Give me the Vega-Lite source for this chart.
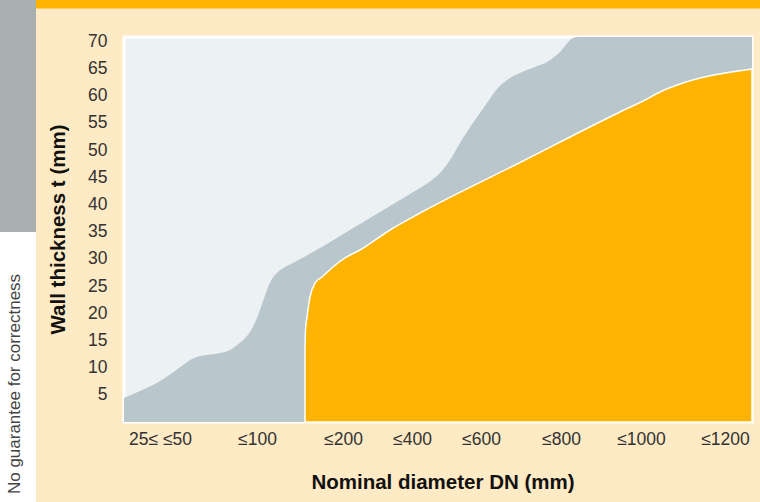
{
  "$schema": "https://vega.github.io/schema/vega-lite/v6.json",
  "width": 628,
  "height": 385,
  "autosize": {"type": "none"},
  "padding": {"left": 124, "top": 37, "right": 8, "bottom": 80},
  "background": "#feeac4",
  "config": {
    "font": "Liberation Sans",
    "axis": {"labelOverlap": false},
    "axisX": {
      "ticks": false, "domain": false, "grid": false, "labelOverlap": false,
      "labelFontSize": 17.5, "labelColor": "#333333", "labelPadding": 8, "labelFlush": false,
      "titleFontSize": 20.5, "titleFontWeight": "bold", "titleColor": "#111111",
      "titleX": 318.5, "titleY": 60, "titleBaseline": "middle", "titleAlign": "center"
    },
    "axisY": {
      "ticks": false, "domain": false, "grid": false, "labelOverlap": false, "labelFlush": false,
      "labelFontSize": 17.5, "labelColor": "#333333", "labelPadding": 17,
      "titleFontSize": 20.5, "titleFontWeight": "bold", "titleColor": "#111111",
      "titleX": -66, "titleY": 192, "titleBaseline": "middle", "titleAlign": "center", "titleAngle": 270
    },
    "view": {"fill": "#ecf1f4", "stroke": "#ffffff", "strokeWidth": 3}
  },
  "datasets": {
    "permitted": [
      {"dn": 0, "t": 4.41}, {"dn": 2.55, "t": 5.7}, {"dn": 4.62, "t": 6.8}, {"dn": 7.01, "t": 8.46},
      {"dn": 9.39, "t": 10.48}, {"dn": 10.83, "t": 11.59}, {"dn": 12.1, "t": 12.14}, {"dn": 13.22, "t": 12.32},
      {"dn": 15.29, "t": 12.69}, {"dn": 16.88, "t": 13.24}, {"dn": 17.99, "t": 14.16}, {"dn": 19.43, "t": 15.63},
      {"dn": 20.54, "t": 17.47}, {"dn": 21.66, "t": 20.6}, {"dn": 22.77, "t": 24.27}, {"dn": 23.57, "t": 26.3},
      {"dn": 24.36, "t": 27.4}, {"dn": 25.64, "t": 28.5}, {"dn": 26.91, "t": 29.24}, {"dn": 30.1, "t": 31.26},
      {"dn": 37.58, "t": 36.41}, {"dn": 43.95, "t": 40.82}, {"dn": 47.13, "t": 43.03}, {"dn": 49.04, "t": 44.5},
      {"dn": 50.32, "t": 45.79}, {"dn": 51.91, "t": 48.18}, {"dn": 53.5, "t": 51.31}, {"dn": 55.89, "t": 55.54},
      {"dn": 57.8, "t": 58.66}, {"dn": 59.39, "t": 61.24}, {"dn": 60.99, "t": 62.89}, {"dn": 63.06, "t": 64.18},
      {"dn": 65.45, "t": 65.28}, {"dn": 67.36, "t": 66.2}, {"dn": 69.43, "t": 68.04}, {"dn": 71.5, "t": 70.6},
      {"dn": 72.3, "t": 70.8}, {"dn": 100, "t": 70.8}
    ],
    "recommended": [
      {"dn": 28.82, "t": 13.24}, {"dn": 28.9, "t": 16.92}, {"dn": 29.14, "t": 19.31}, {"dn": 29.62, "t": 22.99},
      {"dn": 30.41, "t": 25.56}, {"dn": 31.53, "t": 26.66}, {"dn": 33.28, "t": 28.5}, {"dn": 35.19, "t": 30.16},
      {"dn": 37.58, "t": 31.63}, {"dn": 42.36, "t": 35.31}, {"dn": 47.13, "t": 38.43}, {"dn": 63.06, "t": 47.72},
      {"dn": 78.98, "t": 57.01}, {"dn": 82.96, "t": 59.21}, {"dn": 85.35, "t": 60.69}, {"dn": 88.54, "t": 62.16},
      {"dn": 91.72, "t": 63.26}, {"dn": 95.7, "t": 64.18}, {"dn": 100, "t": 64.91}
    ]
  },
  "layer": [
    {
      "data": {"name": "permitted"},
      "mark": {"type": "area", "color": "#b9c6cc", "interpolate": "monotone"},
      "encoding": {
        "x": {
          "field": "dn", "type": "quantitative", "title": "Nominal diameter DN (mm)",
          "scale": {"domain": [0, 100], "nice": false, "zero": false},
          "axis": {
            "labelOverlap": false, "tickCount": 20,
            "values": [5.73, 21.18, 34.87, 45.86, 56.85, 69.59, 82.32, 95.7],
            "labelExpr": "datum.value < 10 ? '25≤ ≤50' : datum.value < 25 ? '≤100' : datum.value < 40 ? '≤200' : datum.value < 50 ? '≤400' : datum.value < 60 ? '≤600' : datum.value < 75 ? '≤800' : datum.value < 90 ? '≤1000' : '≤1200'"
          }
        },
        "y": {
          "field": "t", "type": "quantitative", "title": "Wall thickness t (mm)",
          "scale": {"domain": [0, 70.8], "nice": false},
          "axis": {
            "labelOverlap": false, "tickCount": 20,
            "values": [5, 10, 15, 20, 25, 30, 35, 40, 45, 50, 55, 60, 65, 70]
          }
        }
      }
    },
    {
      "data": {"name": "recommended"},
      "mark": {"type": "area", "color": "#fdb300", "interpolate": "monotone", "stroke": "#ffffff", "strokeWidth": 1.5},
      "encoding": {
        "x": {"field": "dn", "type": "quantitative", "title": "Nominal diameter DN (mm)", "axis": {"labelOverlap": false, "tickCount": 20}},
        "y": {"field": "t", "type": "quantitative", "title": "Wall thickness t (mm)", "axis": {"labelOverlap": false, "tickCount": 20}}
      }
    },
    {
      "data": {"values": [{}]},
      "mark": {"type": "rect", "color": "#a9b0b0", "clip": false},
      "encoding": {
        "x": {"datum": -19.75, "title": "Nominal diameter DN (mm)", "axis": {"labelOverlap": false, "tickCount": 20}}, "x2": {"datum": -14.01},
        "y": {"datum": 77.6, "title": "Wall thickness t (mm)", "axis": {"labelOverlap": false, "tickCount": 20}}, "y2": {"datum": 34.94}
      }
    },
    {
      "data": {"values": [{}]},
      "mark": {"type": "rect", "color": "#ffffff", "clip": false},
      "encoding": {
        "x": {"datum": -19.75, "title": "Nominal diameter DN (mm)", "axis": {"labelOverlap": false, "tickCount": 20}}, "x2": {"datum": -14.01},
        "y": {"datum": 34.94, "title": "Wall thickness t (mm)", "axis": {"labelOverlap": false, "tickCount": 20}}, "y2": {"datum": -14.72}
      }
    },
    {
      "data": {"values": [{}]},
      "mark": {"type": "rect", "color": "#fdb300", "clip": false},
      "encoding": {
        "x": {"datum": -14.01, "title": "Nominal diameter DN (mm)", "axis": {"labelOverlap": false, "tickCount": 20}}, "x2": {"datum": 101.3},
        "y": {"datum": 77.6, "title": "Wall thickness t (mm)", "axis": {"labelOverlap": false, "tickCount": 20}}, "y2": {"datum": 76.04}
      }
    },
    {
      "data": {"values": [{"note": "No guarantee for correctness"}]},
      "mark": {"type": "text", "angle": 270, "align": "center", "baseline": "middle", "fontSize": 17, "color": "#444444", "clip": false},
      "encoding": {
        "text": {"field": "note"},
        "x": {"datum": -17.36, "title": "Nominal diameter DN (mm)", "axis": {"labelOverlap": false, "tickCount": 20}},
        "y": {"datum": 6.99, "title": "Wall thickness t (mm)", "axis": {"labelOverlap": false, "tickCount": 20}}
      }
    }
  ]
}
